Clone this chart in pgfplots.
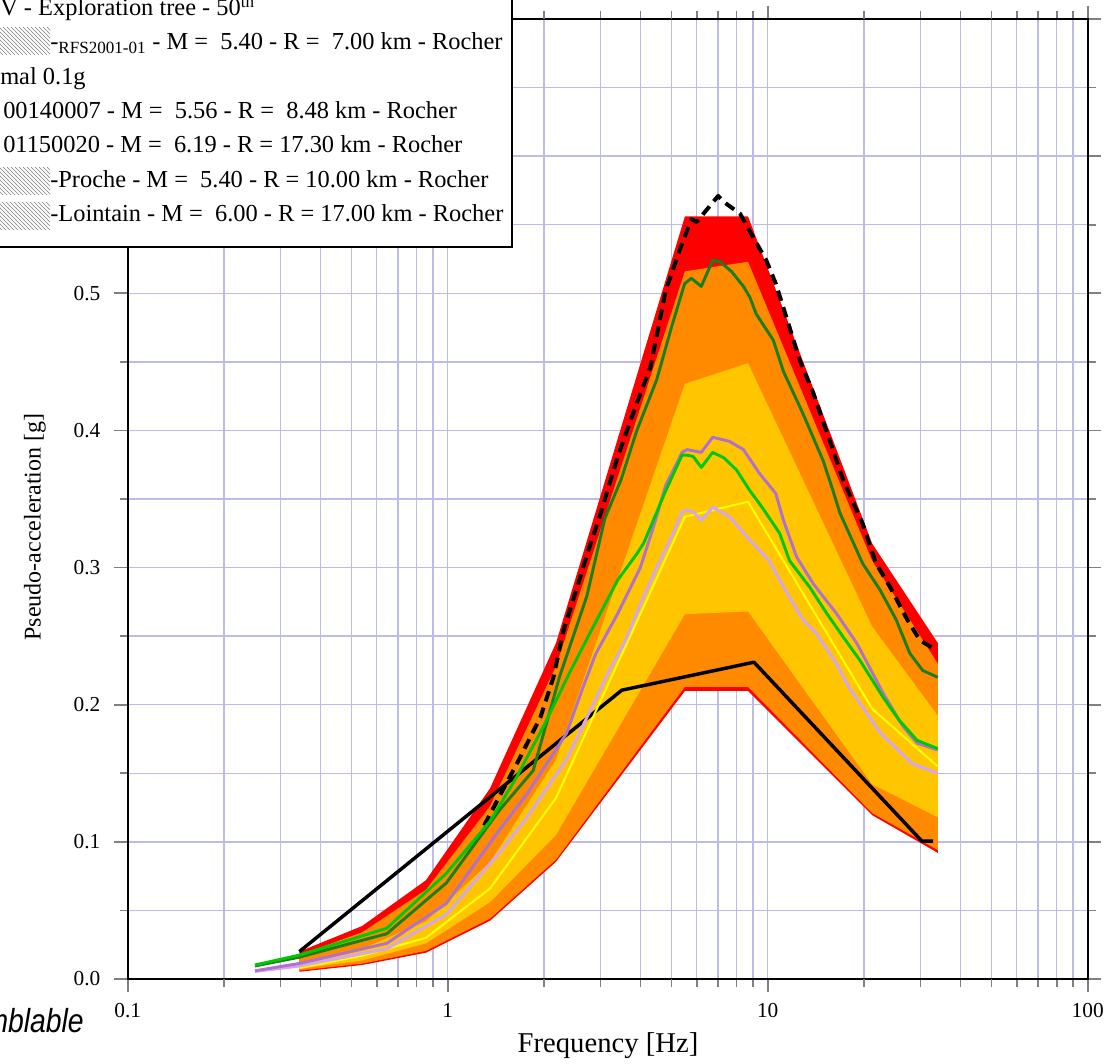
\documentclass[border=0pt]{standalone}
\usepackage{fontspec}
\setmainfont{Liberation Serif}
\newfontfamily\sansfam{Liberation Sans}
\usepackage{pgfplots}
\pgfplotsset{compat=1.18}
\usetikzlibrary{patterns}

\definecolor{gridc}{RGB}{188,188,235}
\definecolor{bandred}{RGB}{255,0,0}
\definecolor{bandorange}{RGB}{255,138,0}
\definecolor{bandyellow}{RGB}{255,198,0}
\definecolor{dkgreen}{RGB}{25,128,25}
\definecolor{limeg}{RGB}{0,200,0}
\definecolor{purp}{RGB}{176,112,208}
\definecolor{ltpurp}{RGB}{212,165,240}
\definecolor{yline}{RGB}{255,255,0}

\begin{document}
\begin{tikzpicture}
\path[use as bounding box] (0,0) rectangle (833.25pt,798pt);
\clip (0,0) rectangle (833.25pt,798pt);
\begin{axis}[
  at={(95.78pt,63.75pt)}, anchor=south west,
  scale only axis, width=720pt, height=720pt,
  xmode=log, log basis x=10,
  xmin=0.1, xmax=100, ymin=0, ymax=0.7,
  xtick={0.1,1,10,100}, xticklabels={0.1,1,10,100},
  minor xtick={0.2,0.3,0.4,0.5,0.6,0.7,0.8,0.9,2,3,4,5,6,7,8,9,20,30,40,50,60,70,80,90},
  xminorticks=false,
  extra x ticks={0.2,0.5,2,5,20,50}, extra x tick labels={},
  extra x tick style={grid=none, major tick length=6pt},
  ytick={0,0.1,0.2,0.3,0.4,0.5,0.6,0.7},
  yticklabels={0.0,0.1,0.2,0.3,0.4,0.5,,},
  minor ytick={0.05,0.15,0.25,0.35,0.45,0.55,0.65},
  grid=both,
  major grid style={gridc, line width=1.1pt},
  minor grid style={gridc, line width=1.1pt},
  tick align=outside, tick pos=both,
  xticklabel pos=bottom, yticklabel pos=left,
  major tick length=10pt, minor tick length=6pt,
  every tick/.style={gray, line width=1.2pt},
  axis line style={black, line width=1.5pt},
  xticklabel style={font=\fontsize{16}{18}\selectfont, yshift=-5pt},
  yticklabel style={font=\fontsize{16}{18}\selectfont, xshift=-7pt},
]
% envelopes
\addplot[fill=bandred, draw=none] coordinates {
(0.344,0.020)(0.54,0.0386)(0.855,0.072)(1.356,0.139)(2.18,0.245)(5.51,0.556)(8.68,0.556)(21.2,0.3175)(34,0.245)
(34,0.092)(21.2,0.1195)(8.68,0.210)(5.51,0.210)(2.18,0.0855)(1.356,0.0425)(0.855,0.0192)(0.54,0.0102)(0.344,0.0053)};
\addplot[fill=bandorange, draw=none] coordinates {
(0.344,0.0175)(0.54,0.034)(0.855,0.065)(1.356,0.126)(2.18,0.228)(5.51,0.516)(8.68,0.523)(21.2,0.305)(34,0.230)
(34,0.094)(21.2,0.121)(8.68,0.213)(5.51,0.213)(2.18,0.087)(1.356,0.044)(0.855,0.0205)(0.54,0.0112)(0.344,0.0062)};
\addplot[fill=bandyellow, draw=none] coordinates {
(0.344,0.012)(0.54,0.022)(0.855,0.042)(1.356,0.085)(2.18,0.160)(5.51,0.434)(8.68,0.449)(21.2,0.257)(34,0.192)
(34,0.118)(21.2,0.142)(8.68,0.268)(5.51,0.266)(2.18,0.105)(1.356,0.056)(0.855,0.026)(0.54,0.0135)(0.344,0.0075)};
% black reference spectrum
\addplot[black, line width=2.6pt, line join=round] coordinates {
(0.344,0.020)(3.5,0.2106)(9.06,0.231)(30.3,0.1006)(32.9,0.1006)};
% yellow median line
\addplot[yline, line width=1.5pt, line join=round] coordinates {
(0.344,0.008)(0.54,0.017)(0.855,0.030)(1.356,0.066)(2.18,0.132)(5.51,0.337)(8.68,0.348)(21.2,0.197)(34,0.155)};
% light purple
\addplot[ltpurp, line width=2.2pt, line join=round] coordinates {
(0.25,0.0055)(0.345,0.0095)(0.645,0.022)(0.99,0.047)(1.45,0.092)(1.77,0.118)(2.35,0.160)(2.65,0.185)(3.2,0.225)
(3.6,0.247)(4.1,0.279)(4.5,0.300)(5.0,0.322)(5.4,0.3405)(5.6,0.342)(5.85,0.3405)(6.2,0.3345)(6.73,0.344)(7.6,0.337)
(8.8,0.320)(10.1,0.305)(11.2,0.286)(12.9,0.2617)(14.2,0.252)(16.4,0.230)(17.9,0.213)(22.4,0.180)(28.3,0.157)(34,0.150)};
% purple
\addplot[purp, line width=2.2pt, line join=round] coordinates {
(0.25,0.006)(0.345,0.0114)(0.645,0.026)(0.99,0.055)(1.45,0.1086)(1.77,0.135)(2.35,0.179)(2.65,0.213)(2.9,0.237)
(3.4,0.2665)(4.0,0.300)(4.4,0.330)(4.8,0.360)(5.4,0.384)(5.6,0.386)(6.2,0.384)(6.73,0.395)(7.6,0.392)(8.4,0.386)
(9.4,0.369)(10.6,0.354)(11.2,0.3345)(12.3,0.308)(13.9,0.288)(16.4,0.2665)(19.0,0.2447)(23,0.208)(26.5,0.184)(29.3,0.172)(34,0.167)};
% dashed black
\addplot[black, line width=3pt, dash pattern=on 8pt off 5pt, line join=round] coordinates {
(1.3,0.112)(1.45,0.133)(1.67,0.160)(1.95,0.191)(2.14,0.220)(2.3,0.254)(2.54,0.286)(2.73,0.310)(3.0,0.339)(3.4,0.381)
(3.9,0.420)(4.3,0.446)(4.8,0.502)(5.3,0.531)(5.77,0.554)(6.0,0.552)(6.4,0.560)(7.0,0.571)(7.3,0.5665)(8.2,0.558)
(9.0,0.541)(9.9,0.524)(10.6,0.507)(11.6,0.478)(12.6,0.451)(13.9,0.427)(15.6,0.393)(17.2,0.364)(19.8,0.332)
(21.8,0.303)(24.1,0.286)(27.3,0.262)(29.9,0.247)(33.5,0.240)};
% dark green
\addplot[dkgreen, line width=2.2pt, line join=round] coordinates {
(0.25,0.0095)(0.345,0.016)(0.645,0.033)(0.99,0.070)(1.45,0.123)(1.85,0.152)(2.24,0.221)(2.72,0.279)(3.1,0.336)
(3.48,0.364)(3.9,0.400)(4.5,0.437)(5.0,0.475)(5.5,0.507)(5.77,0.511)(6.2,0.505)(6.73,0.524)(7.1,0.523)(7.7,0.516)
(8.4,0.505)(8.8,0.497)(9.2,0.485)(10.4,0.466)(11.2,0.443)(12.9,0.412)(14.9,0.378)(16.0,0.356)(16.8,0.340)
(19.8,0.303)(22.4,0.284)(25.2,0.262)(27.8,0.2375)(30.5,0.225)(34,0.220)};
% lime green
\addplot[limeg, line width=2.2pt, line join=round] coordinates {
(0.25,0.0102)(0.345,0.0175)(0.645,0.037)(0.99,0.077)(1.356,0.115)(1.64,0.147)(2.0,0.185)(2.4,0.223)(2.78,0.252)
(3.4,0.291)(3.9,0.310)(4.1,0.318)(4.4,0.335)(4.8,0.356)(5.4,0.382)(5.6,0.382)(5.85,0.381)(6.2,0.373)(6.73,0.384)
(7.3,0.380)(8.0,0.371)(8.8,0.356)(9.6,0.344)(10.9,0.325)(11.7,0.305)(13.5,0.286)(15.3,0.2665)(17.2,0.2495)
(19.4,0.2325)(23,0.205)(25.7,0.189)(29.3,0.174)(34,0.168)};
\end{axis}
\begin{scope}[x=0.75pt,y=-0.75pt,shift={(0pt,798pt)}]
  % axis labels
  \node[rotate=90, font=\fontsize{18}{20}\selectfont] at (35,527) {Pseudo-acceleration [g]};
  \node[font=\fontsize{21.5}{23}\selectfont] at (608,1046) {Frequency [Hz]};
  \node[anchor=base east, font=\sansfam\itshape\fontsize{25}{27}\selectfont, xscale=0.85, inner sep=0] at (84,1033) {Semblable};
  % legend box
  \draw[line width=1.5pt, fill=white] (-20,-20) rectangle (512,247);
  \begin{scope}[font=\fontsize{18.3}{20}\selectfont]
    \node[anchor=base west, inner sep=0] at (0,16) {V - Exploration tree - 50\textsuperscript{th}};
    \fill[pattern=north west lines, pattern color=gray] (0,28) rectangle (50,55);
    \node[anchor=base west, inner sep=0] at (50,50) {-\textsubscript{RFS2001-01} - M = \ 5.40 - R = \ 7.00 km - Rocher};
    \node[anchor=base west, inner sep=0] at (0,85) {mal 0.1g};
    \node[anchor=base west, inner sep=0] at (3,119) {00140007 - M = \ 5.56 - R = \ 8.48 km - Rocher};
    \node[anchor=base west, inner sep=0] at (3,153) {01150020 - M = \ 6.19 - R = 17.30 km - Rocher};
    \fill[pattern=north west lines, pattern color=gray] (0,168) rectangle (50,195);
    \node[anchor=base west, inner sep=0] at (50,188) {-Proche - M = \ 5.40 - R = 10.00 km - Rocher};
    \fill[pattern=north west lines, pattern color=gray] (0,203) rectangle (50,230);
    \node[anchor=base west, inner sep=0] at (50,222) {-Lointain - M = \ 6.00 - R = 17.00 km - Rocher};
  \end{scope}
\end{scope}
\end{tikzpicture}
\end{document}
